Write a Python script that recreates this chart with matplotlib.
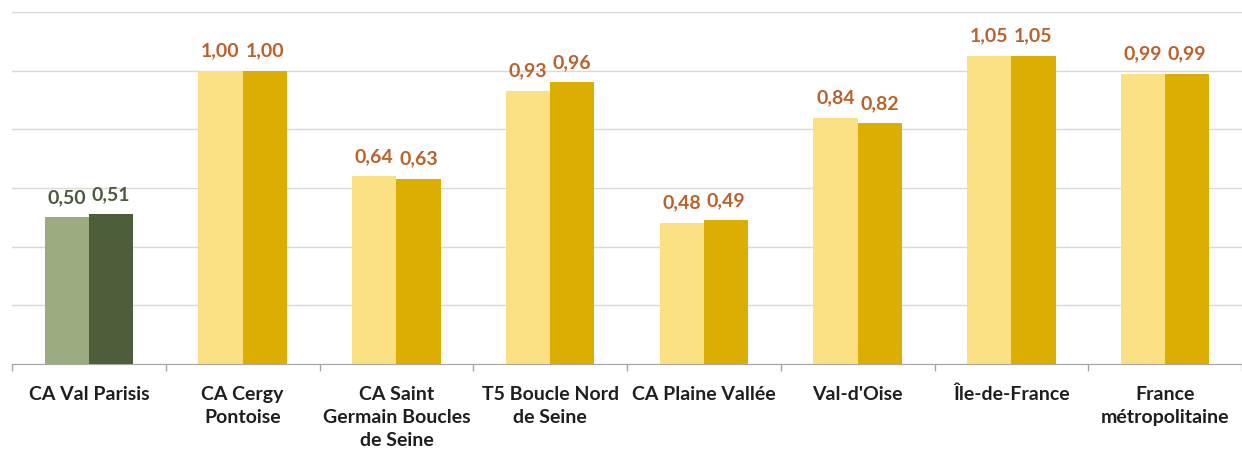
import matplotlib
matplotlib.use("Agg")
import matplotlib.pyplot as plt
import numpy as np

categories = [
    "CA Val Parisis",
    "CA Cergy\nPontoise",
    "CA Saint\nGermain Boucles\nde Seine",
    "T5 Boucle Nord\nde Seine",
    "CA Plaine Vallée",
    "Val-d'Oise",
    "Île-de-France",
    "France\nmétropolitaine",
]
series_a = [0.50, 1.00, 0.64, 0.93, 0.48, 0.84, 1.05, 0.99]
series_b = [0.51, 1.00, 0.63, 0.96, 0.49, 0.82, 1.05, 0.99]

colors_a = ["#9BAD80"] + ["#FCE084"] * 7
colors_b = ["#4D5E3A"] + ["#DDAE02"] * 7
label_colors = ["#4B5B3D"] + ["#BA622B"] * 7

plt.rcParams["font.family"] = ["Lato", "DejaVu Sans"]

fig = plt.figure(figsize=(12.42, 4.52), dpi=100)
ax = fig.add_axes([12 / 1242, 87 / 452, 1230 / 1242, 352 / 452])

x = np.arange(len(categories))
w = 0.287
bars_a = ax.bar(x - w / 2, series_a, w, color=colors_a, zorder=3)
bars_b = ax.bar(x + w / 2, series_b, w, color=colors_b, zorder=3)

for bars, vals in ((bars_a, series_a), (bars_b, series_b)):
    for i, (b, v) in enumerate(zip(bars, vals)):
        ax.annotate(f"{v:.2f}".replace(".", ","),
                    (b.get_x() + b.get_width() / 2, v),
                    xytext=(0, 9), textcoords="offset points",
                    ha="center", va="bottom", fontsize=14, fontweight="bold",
                    color=label_colors[i])

ax.set_xlim(-0.5, -0.5 + 1230 / 155)
ax.set_ylim(0, 1.2)
ax.set_yticks(np.arange(0, 1.21, 0.2))
ax.yaxis.grid(True, color="#D9D9D9", linewidth=1, zorder=0)
ax.tick_params(axis="y", length=0, labelleft=False)

ax.set_xticks(x)
ax.set_xticklabels(categories, fontsize=14, fontweight="bold", color="#1E1E1E",
                   linespacing=1.45)
ax.set_xticks(np.arange(-0.5, len(categories) + 0.5, 1), minor=True)
ax.tick_params(axis="x", which="major", length=0, pad=15)
ax.tick_params(axis="x", which="minor", length=5, color="#A6A6A6", width=1)

for s in ("top", "right", "left"):
    ax.spines[s].set_visible(False)
ax.spines["bottom"].set_color("#A6A6A6")
ax.spines["bottom"].set_zorder(4)

fig.savefig("out.png", dpi=100, facecolor="white")
